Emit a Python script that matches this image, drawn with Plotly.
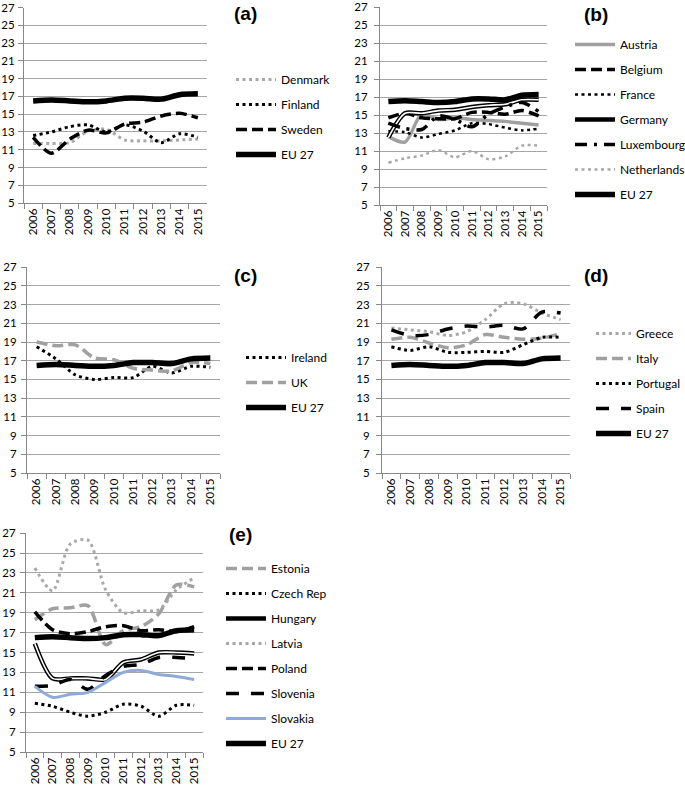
import plotly.graph_objects as go

years = ["2006", "2007", "2008", "2009", "2010", "2011", "2012", "2013", "2014", "2015"]
y_ticks = [5, 7, 9, 11, 13, 15, 17, 19, 21, 23, 25, 27]

eu27 = [16.5, 16.6, 16.5, 16.4, 16.5, 16.8, 16.8, 16.7, 17.2, 17.3]

# (a) Nordic
denmark = [11.7, 11.7, 11.8, 13.1, 13.3, 12.1, 12.0, 12.0, 12.1, 12.2]
finland = [12.6, 13.0, 13.6, 13.8, 13.0, 13.8, 13.1, 11.8, 12.8, 12.4]
sweden = [12.4, 10.6, 12.2, 13.2, 12.9, 13.9, 14.1, 14.8, 15.1, 14.6]

# (b) Continental
austria = [12.6, 12.0, 15.1, 14.5, 14.7, 14.5, 14.4, 14.3, 14.1, 13.9]
belgium = [14.7, 15.2, 14.7, 14.6, 14.6, 15.3, 15.3, 15.1, 15.5, 14.9]
france = [13.2, 13.1, 12.5, 12.9, 13.3, 14.1, 14.0, 13.6, 13.3, 13.5]
germany = [12.5, 15.2, 15.2, 15.5, 15.6, 15.9, 16.1, 16.2, 16.7, 16.7]
luxembourg = [14.1, 13.5, 13.4, 14.9, 14.5, 13.7, 15.1, 15.9, 16.4, 15.4]
netherlands = [9.7, 10.2, 10.5, 11.1, 10.3, 11.0, 10.1, 10.4, 11.6, 11.6]

# (c) Anglo-Saxon
ireland = [18.5, 17.2, 15.5, 15.0, 15.2, 15.2, 16.4, 15.7, 16.4, 16.3]
uk = [19.0, 18.6, 18.7, 17.3, 17.1, 16.2, 16.0, 15.9, 16.8, 16.7]

# (d) Mediterranean
greece = [20.5, 20.3, 20.1, 19.7, 20.1, 21.4, 23.1, 23.1, 22.1, 21.4]
italy = [19.3, 19.5, 18.9, 18.4, 18.7, 19.8, 19.5, 19.3, 19.4, 19.9]
portugal = [18.5, 18.1, 18.5, 17.9, 17.9, 18.0, 17.9, 18.7, 19.5, 19.5]
spain = [20.3, 19.7, 19.8, 20.4, 20.7, 20.6, 20.8, 20.4, 22.2, 22.1]

# (e) Eastern
estonia = [18.3, 19.4, 19.5, 19.7, 15.8, 17.2, 17.6, 18.9, 21.8, 21.6]
czech = [9.9, 9.6, 9.0, 8.6, 9.0, 9.8, 9.6, 8.6, 9.7, 9.7]
hungary = [15.9, 12.4, 12.4, 12.4, 12.3, 14.0, 14.3, 15.0, 15.0, 14.9]
latvia = [23.5, 21.2, 25.9, 26.3, 21.3, 19.0, 19.2, 19.3, 21.3, 22.5]
poland = [19.1, 17.3, 16.9, 17.1, 17.6, 17.7, 17.2, 17.3, 17.1, 17.6]
slovenia = [11.6, 11.7, 12.3, 11.3, 12.7, 13.6, 13.8, 14.5, 14.5, 14.4]
slovakia = [11.6, 10.5, 10.8, 11.0, 12.0, 13.0, 13.2, 12.8, 12.6, 12.3]

GREY = "#a0a0a0"
LGREY = "#a8a8a8"
BLACK = "#000000"
BLUE = "#8eaad8"
AXC = "#888888"
FONT = "Lato, Open Sans, sans-serif"

DOT = "3px,3.5px"
DASH = "11px,5px"
LDASH = "13px,12px"
DASHDOT = "12px,7px,3px,7px"

fig = go.Figure()

W, H = 685.0, 785.0
def dom_x(a, b):
    return [a / W, b / W]
def dom_y(top, bottom):
    return [1 - bottom / H, 1 - top / H]

panels = {
    "a": dict(ax="", xd=dom_x(24, 207), yd=dom_y(7.5, 203), leg="legend", so=1),
    "b": dict(ax="2", xd=dom_x(380, 547), yd=dom_y(7, 205), leg="legend2", so=4),
    "c": dict(ax="3", xd=dom_x(27, 220), yd=dom_y(267, 473), leg="legend3", so=2),
    "d": dict(ax="4", xd=dom_x(382, 570), yd=dom_y(267, 473), leg="legend4", so=4),
    "e": dict(ax="5", xd=dom_x(26, 203), yd=dom_y(533, 752), leg="legend5", so=2),
}

def add(panel, name, vals, color, width, dash, double=False):
    p = panels[panel]
    xa = "x" + p["ax"]
    ya = "y" + p["ax"]
    fig.add_trace(go.Scatter(
        x=years, y=vals, name=name, mode="lines",
        line=dict(color=color, width=width, dash=dash, shape="spline", smoothing=0.8),
        xaxis=xa, yaxis=ya, legend=p["leg"], legendgroup=panel + name,
        hoverinfo="name+y",
    ))
    if double:
        fig.add_trace(go.Scatter(
            x=years, y=vals, name=name, mode="lines",
            line=dict(color="white", width=1.6, shape="spline", smoothing=0.8),
            xaxis=xa, yaxis=ya, showlegend=False, legendgroup=panel + name,
            hoverinfo="skip",
        ))

# (a)
add("a", "Denmark", denmark, LGREY, 3, DOT)
add("a", "Finland", finland, BLACK, 3, DOT)
add("a", "Sweden", sweden, BLACK, 3.5, DASH)
add("a", "EU 27", eu27, BLACK, 5.5, "solid")
# (b)
add("b", "Austria", austria, GREY, 3.5, "solid")
add("b", "Belgium", belgium, BLACK, 3.5, DASH)
add("b", "France", france, BLACK, 2.5, DOT)
add("b", "Germany", germany, BLACK, 4.5, "solid", double=True)
add("b", "Luxembourg", luxembourg, BLACK, 3.5, DASHDOT)
add("b", "Netherlands", netherlands, LGREY, 2.5, DOT)
add("b", "EU 27", eu27, BLACK, 5.5, "solid")
# (c)
add("c", "Ireland", ireland, BLACK, 3, DOT)
add("c", "UK", uk, GREY, 3.5, DASH)
add("c", "EU 27", eu27, BLACK, 5.5, "solid")
# (d)
add("d", "Greece", greece, LGREY, 3, DOT)
add("d", "Italy", italy, GREY, 3.5, DASH)
add("d", "Portugal", portugal, BLACK, 3, DOT)
add("d", "Spain", spain, BLACK, 3.5, LDASH)
add("d", "EU 27", eu27, BLACK, 5.5, "solid")
# (e)
add("e", "Estonia", estonia, GREY, 3.5, DASH)
add("e", "Czech Rep", czech, BLACK, 3, DOT)
add("e", "Hungary", hungary, BLACK, 4.5, "solid", double=True)
add("e", "Latvia", latvia, LGREY, 3, DOT)
add("e", "Poland", poland, BLACK, 3.5, DASH)
add("e", "Slovenia", slovenia, BLACK, 3.5, LDASH)
add("e", "Slovakia", slovakia, BLUE, 3, "solid")
add("e", "EU 27", eu27, BLACK, 5.5, "solid")

layout = dict(
    width=685, height=785,
    margin=dict(l=0, r=0, t=0, b=0, autoexpand=False),
    paper_bgcolor="white", plot_bgcolor="white",
    font=dict(family=FONT, size=11, color="#000000"),
    showlegend=True,
)

# (left x, top y, symbol width)
legend_pos = {
    "a": (231, 65, 40),
    "b": (570, 30, 40),
    "c": (241, 343, 40),
    "d": (591, 319, 35),
    "e": (221, 554, 40),
}

for key, p in panels.items():
    ax = p["ax"]
    layout["xaxis" + ax] = dict(
        domain=p["xd"], anchor="y" + ax, type="category", categoryarray=years,
        range=[-0.5, 9.5], tickangle=-90, showgrid=False, showline=True,
        linecolor=AXC, linewidth=1, ticks="outside", tickson="boundaries",
        ticklen=5, tickcolor=AXC, tickfont=dict(family=FONT, size=11.5, color="#000"),
        fixedrange=True,
    )
    layout["yaxis" + ax] = dict(
        domain=p["yd"], anchor="x" + ax, range=[5, 27.02], tickvals=y_ticks,
        showgrid=True, gridcolor="#a6a6a6", gridwidth=1, showline=True,
        linecolor=AXC, linewidth=1, ticks="outside", ticklen=5, tickcolor=AXC,
        ticklabelstandoff=p["so"],
        zeroline=False, tickfont=dict(family=FONT, size=11.5, color="#000"),
        fixedrange=True,
    )
    lx, ly, iw = legend_pos[key]
    layout[p["leg"]] = dict(
        x=lx / W, y=1 - ly / H, xanchor="left", yanchor="top",
        font=dict(family=FONT, size=12, color="#000"),
        bgcolor="rgba(0,0,0,0)", borderwidth=0,
        traceorder="grouped", tracegroupgap=6, itemwidth=iw,
        itemclick=False, itemdoubleclick=False,
    )

fig.update_layout(**layout)

labels = {"a": (245, 14), "b": (596, 15), "c": (245, 276), "d": (596, 276), "e": (240, 534)}
for k, (lx, ly) in labels.items():
    fig.add_annotation(
        text="<b>(%s)</b>" % k, xref="paper", yref="paper",
        x=lx / W, y=1 - ly / H, xanchor="center", yanchor="middle",
        showarrow=False, font=dict(family="Liberation Sans, Arial", size=19, color="#000"),
    )

fig.write_html(
    "out.html",
    config={"displayModeBar": False},
    post_script="document.body.style.margin='0';document.body.style.overflow='hidden';",
)
